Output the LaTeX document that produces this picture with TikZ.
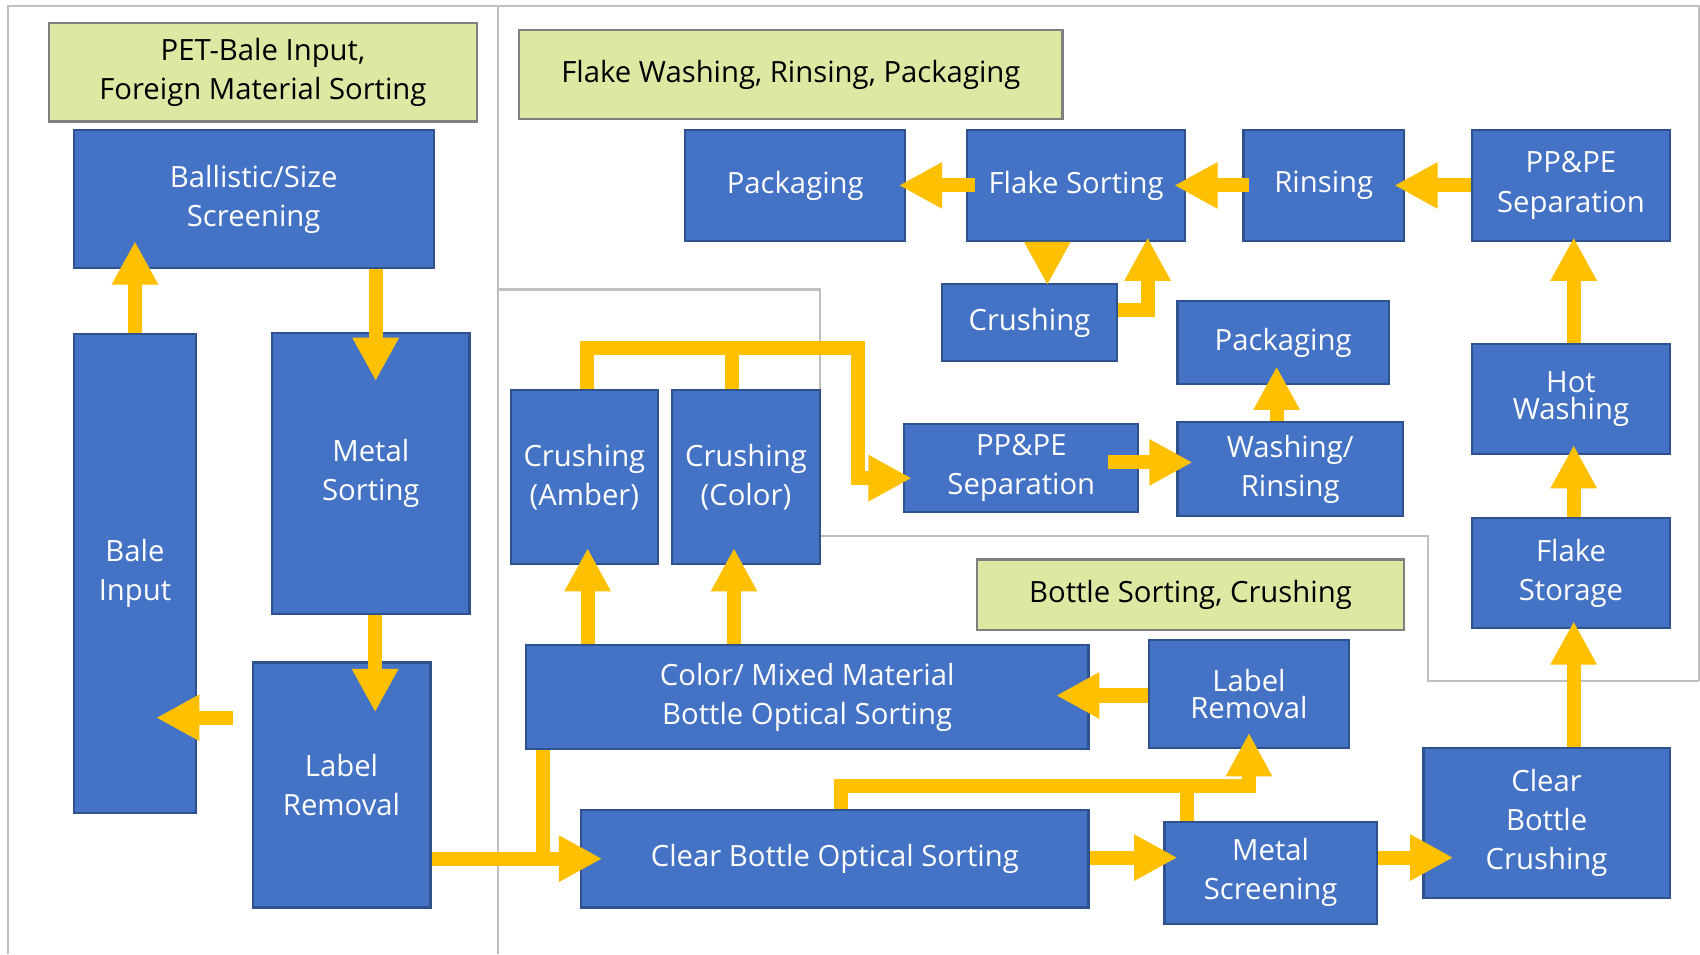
\documentclass[tikz,border=0pt]{standalone}
\usepackage{fontspec}
\setmainfont{Open Sans}
\usetikzlibrary{arrows.meta,calc}
\definecolor{boxblue}{HTML}{4472C4}
\definecolor{boxedge}{HTML}{2F528F}
\definecolor{flow}{HTML}{FFC000}
\definecolor{secfill}{HTML}{DEE8A2}
\definecolor{secedge}{HTML}{808080}
\definecolor{framegray}{HTML}{BFBFBF}
\begin{document}
\begin{tikzpicture}[x=1pt,y=-1pt,
  proc/.style={draw=boxedge, line width=2pt, fill=boxblue, text=white, align=center, inner sep=0pt, font=\fontsize{27}{36}\selectfont},
  sect/.style={draw=secedge, line width=2pt, fill=secfill, text=black, align=center, inner sep=0pt, font=\fontsize{27}{36}\selectfont},
  tight/.style={font=\fontsize{27}{25.5}\selectfont},
  flowarrow/.style={draw=flow, line width=13pt, -{Triangle[width=40pt,length=40pt]}},
  flowline/.style={draw=flow, line width=13pt},
  frameline/.style={draw=framegray, line width=2pt},
  sz/.style 2 args={minimum width=#1pt, minimum height=#2pt},
]
\useasboundingbox (0,0) rectangle (1568,880);
\fill[white] (0,0) rectangle (1568,880);

% section frames
\draw[frameline] (7.7,880) -- (7.7,5.5) -- (1567,5.5) -- (1567,628);
\draw[frameline] (459,5.5) -- (459,880);
\draw[frameline] (459,267) -- (756,267) -- (756,494) -- (1317,494) -- (1317,628) -- (1567,628);

% section titles
\node[sect, sz={395}{91}] (g1) at (242.5,66.5) {PET-Bale Input,\\Foreign Material Sorting};
\node[sect, sz={501}{82}] (g2) at (729.5,69) {Flake Washing, Rinsing, Packaging};
\node[sect, sz={394}{65}] (g3) at (1098,548.5) {Bottle Sorting, Crushing};

% process boxes
\node[proc, sz={332}{127}] (ballistic) at (234,183.5) {Ballistic/Size\\Screening};
\node[proc, sz={113}{442}] (bale) at (124.5,529) {Bale\\Input};
\node[proc, sz={182}{259}] (metal) at (342,436.5) {Metal\\Sorting};
\node[proc, sz={164}{226}] (label1) at (315,724) {Label\\Removal};
\node[proc, sz={203}{102}] (pack1) at (733.5,171) {Packaging};
\node[proc, sz={201}{102}] (flake) at (992.5,171) {Flake Sorting};
\node[proc, sz={148}{102}] (rinse) at (1221,171) {Rinsing};
\node[proc, sz={182}{102}] (pppe1) at (1449,171) {PP\&PE\\Separation};
\node[proc, sz={161}{71}] (crush) at (949.5,297.5) {Crushing};
\node[proc, sz={195}{76}] (pack2) at (1183.5,316) {Packaging};
\node[proc, sz={136}{160}] (amber) at (539,440) {Crushing\\(Amber)};
\node[proc, sz={136}{160}] (color) at (688,440) {Crushing\\(Color)};
\node[proc, sz={216}{81}] (pppe2) at (942,431.5) {PP\&PE\\Separation};
\node[proc, sz={208}{87}] (wash) at (1190,432.5) {Washing/\\Rinsing};
\node[proc, tight, sz={182}{102}] (hot) at (1449,368) {Hot\\Washing};
\node[proc, sz={182}{101}] (storage) at (1449,528.5) {Flake\\Storage};
\node[proc, sz={519}{96}] (cmix) at (744.5,643) {Color/ Mixed Material\\Bottle Optical Sorting};
\node[proc, tight, sz={184}{100}] (label2) at (1152,640) {Label\\Removal};
\node[proc, sz={468}{90}] (clearopt) at (770,792) {Clear Bottle Optical Sorting};
\node[proc, sz={196}{94}] (mscreen) at (1172,805) {Metal\\Screening};
\node[proc, sz={227}{138}] (ccrush) at (1426.5,759) {Clear\\Bottle\\Crushing};

% left section flow
\draw[flowarrow] (bale.north) -- ($(bale.north |- ballistic.south)+(0,-25.5)$);
\draw[flowarrow] ($(metal.north |- ballistic.south)+(4.5,0)$) -- ($(metal.north)+(4.5,45.5)$);
\draw[flowarrow] ($(metal.south)+(4,0)$) -- ($(metal.south |- label1.north)+(4,47)$);
\draw[flowarrow] ($(label1.west)+(-17,-62)$) -- ($(bale.east |- label1.west)+(-38,-62)$);

% bottle sorting
\draw[flowline] ($(cmix.south west)+(17,0)$) -- ($(cmix.south west |- clearopt.west)+(17,0)$);
\draw[flowarrow] (label1.east |- clearopt.west) -- ($(clearopt.west)+(20.5,0)$);
\draw[flowarrow] ($(amber.south |- cmix.north)+(3,0)$) -- ($(amber.south)+(3,-15.5)$);
\draw[flowarrow] ($(color.south |- cmix.north)+(-11,0)$) -- ($(color.south)+(-11,-15.5)$);
\draw[flowline] ($(color.north)+(-13,0)$) -- ($(color.north)+(-13,-39)$);
\draw[flowarrow] ($(amber.north)+(2,0)$) |- ($(pppe2.west)+(-41.5,-110.5)$) |- ($(pppe2.west)+(8,9.5)$);
\draw[flowarrow] ($(pppe2.east)+(-29,-5)$) -- ($(wash.west)+(15,-6)$);
\draw[flowarrow] ($(wash.north)+(-12.5,0)$) -- ($(pack2.south)+(-6,-17)$);

\draw[flowarrow] ($(clearopt.east)+(0,-1)$) -- ($(mscreen.west |- clearopt.east)+(13,-1)$);
\draw[flowarrow] ($(mscreen.east)+(0,-14)$) -- ($(ccrush.west |- mscreen.east)+(28.5,-14)$);
\draw[flowarrow] ($(label2.west)+(0,1.5)$) -- ($(cmix.east |- label2.west)+(-31,1.5)$);
\draw[flowarrow] ($(clearopt.north)+(6,0)$) |- ($(label2.south)+(0,34)$) -- ($(label2.south)+(0,-15)$);
\draw[flowline] ($(mscreen.north)+(-77,0)$) -- ($(mscreen.north)+(-77,-34)$);

% flake washing
\draw[flowarrow] ($(storage.south |- ccrush.north)+(2.5,0)$) -- ($(storage.south)+(2.5,-7)$);
\draw[flowarrow] ($(storage.north)+(2.5,0)$) -- ($(hot.south)+(2.5,-9.5)$);
\draw[flowarrow] ($(hot.north)+(2.5,0)$) -- ($(pppe1.south)+(2.5,-4)$);
\draw[flowarrow] (pppe1.west) -- ($(rinse.east)+(-10,0)$);
\draw[flowarrow] ($(rinse.west)+(6,0)$) -- ($(flake.east)+(-11,0)$);
\draw[flowarrow] ($(flake.west)+(8,0)$) -- ($(pack1.east)+(-7,0)$);
\draw[flowarrow] ($(flake.south)+(-26.5,0)$) -- ($(flake.south |- crush.north)+(-26.5,2)$);
\draw[flowarrow] ($(crush.east)+(0,-11.5)$) -| ($(flake.south)+(66,-4)$);
\end{tikzpicture}
\end{document}
